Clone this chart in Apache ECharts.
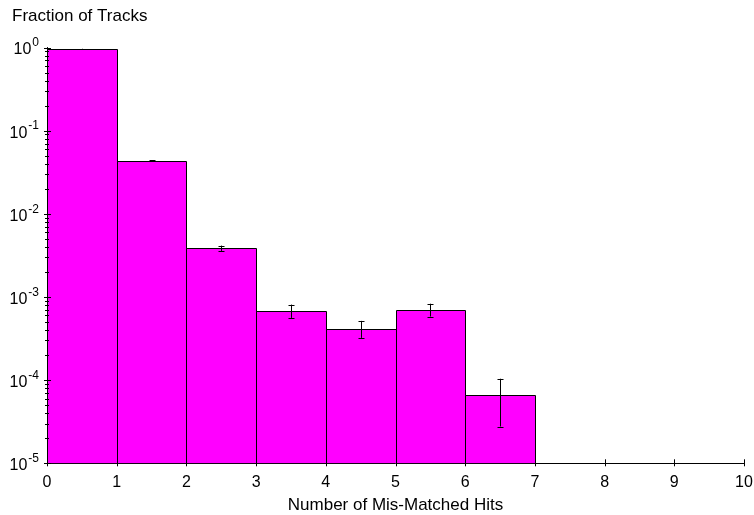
<!DOCTYPE html>
<html><head><meta charset="utf-8">
<script src="https://cdn.jsdelivr.net/npm/echarts@6/dist/echarts.min.js"></script>
<style>html,body{margin:0;padding:0;background:#fff}#c{width:754px;height:515px}</style>
</head><body><div id="c"></div>
<script>
const binLow = [0, 1, 2, 3, 4, 5, 6];
const binWidth = 1;
const fractions = [0.96, 0.0436, 0.00386, 6.8e-4, 4.17e-4, 7.06e-4, 6.6e-5];
const errHigh = [0.965, 0.0443, 0.00415, 8.1e-4, 5.16e-4, 8.3e-4, 1.04e-4];
const errLow = [0.955, 0.0429, 0.00358, 5.6e-4, 3.22e-4, 5.82e-4, 2.77e-5];
const xTicks = [0,1,2,3,4,5,6,7,8,9,10];
const yDecades = [-5,-4,-3,-2,-1,0];
const FONT = 'Liberation Sans, Arial, sans-serif';

const chart = echarts.init(document.getElementById('c'));
const yMin = 1e-5;

const barData = binLow.map((x, i) => [x, x + binWidth, fractions[i]]);
const errData = binLow.map((x, i) => [x + binWidth / 2, errLow[i], errHigh[i]]);

chart.setOption({
  animation: false,
  title: { text: 'Fraction of Tracks', left: 7, top: 3,
    textStyle: { fontSize: 17, fontWeight: 'normal', color: '#000', fontFamily: FONT } },
  grid: { left: 47, right: 10, top: 47.5, bottom: 51.7, containLabel: false, outerBoundsMode: 'none' },
  xAxis: {
    type: 'value', min: 0, max: 10, interval: 1,
    name: 'Number of Mis-Matched Hits', nameLocation: 'middle', nameGap: 34,
    nameTextStyle: { fontSize: 17, color: '#000', fontFamily: FONT },
    axisLine: { lineStyle: { color: '#000', width: 1 } },
    axisTick: { show: false },
    splitLine: { show: false },
    axisLabel: { fontSize: 16, color: '#000', margin: 11, fontFamily: FONT }
  },
  yAxis: {
    type: 'log', logBase: 10, min: yMin, max: 1,
    axisLine: { show: true, lineStyle: { color: '#000', width: 1 } },
    axisTick: { show: false },
    splitLine: { show: false },
    axisLabel: {
      margin: 8, color: '#000', fontFamily: FONT,
      formatter: v => '{b|10}{s|' + Math.round(Math.log10(v)) + '}',
      rich: {
        b: { fontSize: 16, fontFamily: FONT, color: '#000', verticalAlign: 'bottom', padding: [0, 1, 0, 0] },
        s: { fontSize: 12, fontFamily: FONT, color: '#000', verticalAlign: 'bottom', padding: [0, 0, 9, 0] }
      }
    }
  },
  series: [
    {
      type: 'custom', data: barData, clip: true,
      renderItem: (params, api) => {
        const p0 = api.coord([api.value(0), api.value(2)]);
        const p1 = api.coord([api.value(1), yMin]);
        return { type: 'rect',
          shape: { x: Math.round(p0[0]) + 0.5, y: Math.round(p0[1]) + 0.5,
                   width: Math.round(p1[0]) - Math.round(p0[0]), height: Math.round(p1[1]) - Math.round(p0[1]) },
          style: { fill: '#ff00ff', stroke: '#000', lineWidth: 1 } };
      }
    },
    {
      type: 'custom', data: errData, z: 5,
      renderItem: (params, api) => {
        const lo = api.coord([api.value(0), api.value(1)]);
        const hi = api.coord([api.value(0), api.value(2)]);
        const x = Math.round(lo[0]) + 0.5;
        const st = { stroke: '#000', lineWidth: 1 };
        return { type: 'group', children: [
          { type: 'line', shape: { x1: x, y1: hi[1], x2: x, y2: lo[1] }, style: st },
          { type: 'line', shape: { x1: x - 3, y1: Math.round(hi[1]) + 0.5, x2: x + 3, y2: Math.round(hi[1]) + 0.5 }, style: st },
          { type: 'line', shape: { x1: x - 3, y1: Math.round(lo[1]) + 0.5, x2: x + 3, y2: Math.round(lo[1]) + 0.5 }, style: st }
        ] };
      }
    },
    {
      type: 'custom', data: [[0]], z: 6, silent: true, clip: false,
      renderItem: (params, api) => {
        const st = { stroke: '#000', lineWidth: 1 };
        const ch = [];
        xTicks.forEach(t => {
          const p = api.coord([t, yMin]);
          const x = Math.round(p[0]) + 0.5;
          ch.push({ type: 'line', shape: { x1: x, y1: p[1] - 4, x2: x, y2: p[1] + 3 }, style: st });
        });
        yDecades.forEach(d => {
          const p = api.coord([0, Math.pow(10, d)]);
          const y = Math.round(p[1]) + 0.5;
          ch.push({ type: 'line', shape: { x1: p[0] - 3, y1: y, x2: p[0] + 4, y2: y }, style: st });
          if (d < 0) {
            for (let k = 2; k <= 9; k++) {
              const q = api.coord([0, k * Math.pow(10, d)]);
              const yy = Math.round(q[1]) + 0.5;
              ch.push({ type: 'line', shape: { x1: q[0] - 2, y1: yy, x2: q[0] + 2, y2: yy }, style: st });
            }
          }
        });
        return { type: 'group', children: ch };
      }
    }
  ]
});
</script></body></html>
